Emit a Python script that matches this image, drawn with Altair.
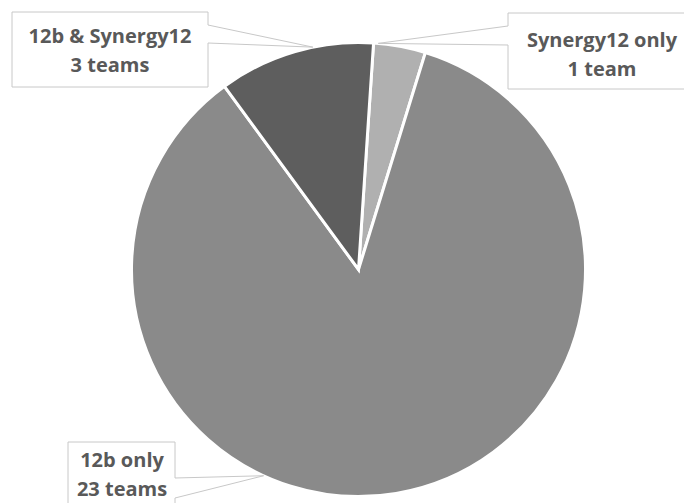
import altair as alt
import pandas as pd
import numpy as np

# ---- data ----
categories = ["Synergy12 only", "12b only", "12b & Synergy12"]
teams = [1, 23, 3]
team_labels = ["1 team", "23 teams", "3 teams"]
colors = ["#b0b0b0", "#8a8a8a", "#5e5e5e"]

# ---- layout (picture pixels; the chart sits 8px in from the page edge) ----
OFF = 8
SVG_W, SVG_H = 692 - 2 * OFF, 503 - OFF


def cx(v):
    return v - OFF


CX, CY, R = 358.5, 269.5, 227
START = np.deg2rad(3.8)

pie_df = pd.DataFrame({"cat": categories, "teams": teams, "ord": [0, 1, 2]})

pie = alt.Chart(pie_df).mark_arc(
    radius=R, stroke="white", strokeWidth=3
).encode(
    theta=alt.Theta("teams:Q", stack=True,
                    scale=alt.Scale(range=[START, START + 2 * np.pi])),
    order=alt.Order("ord:Q"),
    color=alt.Color("cat:N", scale=alt.Scale(domain=categories, range=colors),
                    legend=None),
    x=alt.value(cx(CX)), y=alt.value(cx(CY)),
)

# callout boxes: (left, top, right, bottom), pointer side, pointer y span, tip angle (deg)
boxes = {
    "12b & Synergy12": dict(box=(12, 12, 208, 87), side="right", span=(25, 43), ang=-11.6),
    "Synergy12 only": dict(box=(508, 13, 700, 89), side="left", span=(26, 45), ang=5.0),
    "12b only": dict(box=(68, 442, 175, 540), side="right", span=(478, 498), ang=-155.3),
}
rows = []
for name, b in boxes.items():
    l, t, r, btm = b["box"]
    a = np.deg2rad(b["ang"])
    tx, ty = CX + R * np.sin(a), CY - R * np.cos(a)
    s0, s1 = b["span"]
    if b["side"] == "right":
        pts = [(l, t), (r, t), (r, s0), (tx, ty), (r, s1), (r, btm), (l, btm), (l, t)]
    else:
        pts = [(l, t), (r, t), (r, btm), (l, btm), (l, s1), (tx, ty), (l, s0), (l, t)]
    for i, (px, py) in enumerate(pts):
        rows.append({"box": name, "i": i, "x": cx(px), "y": cx(py)})
box_df = pd.DataFrame(rows)

outline = alt.Chart(box_df).mark_line(
    stroke="#c8c8c8", strokeWidth=1, interpolate="linear"
).encode(
    x=alt.X("x:Q", scale=None),
    y=alt.Y("y:Q", scale=None),
    detail="box:N",
    order="i:Q",
)

# label text positions (center x, baseline y of first line)
label_pos = {
    "12b & Synergy12": (110, 43),
    "Synergy12 only": (602, 47),
    "12b only": (122, 467),
}
trows = []
for cat, lab in zip(categories, team_labels):
    x0, y0 = label_pos[cat]
    trows.append({"t": cat, "x": cx(x0), "y": cx(y0)})
    trows.append({"t": lab, "x": cx(x0), "y": cx(y0 + 29)})
text_df = pd.DataFrame(trows)

texts = alt.Chart(text_df).mark_text(
    font="Open Sans", fontWeight="bold", fontSize=20, color="#595959",
    align="center", baseline="alphabetic"
).encode(
    x=alt.X("x:Q", scale=None),
    y=alt.Y("y:Q", scale=None),
    text="t:N",
)

chart = alt.layer(pie, outline, texts).properties(
    width=SVG_W, height=SVG_H, padding=0, autosize="none"
).configure_view(stroke=None)

chart.save("out.html", embed_options={"renderer": "svg", "actions": False})
